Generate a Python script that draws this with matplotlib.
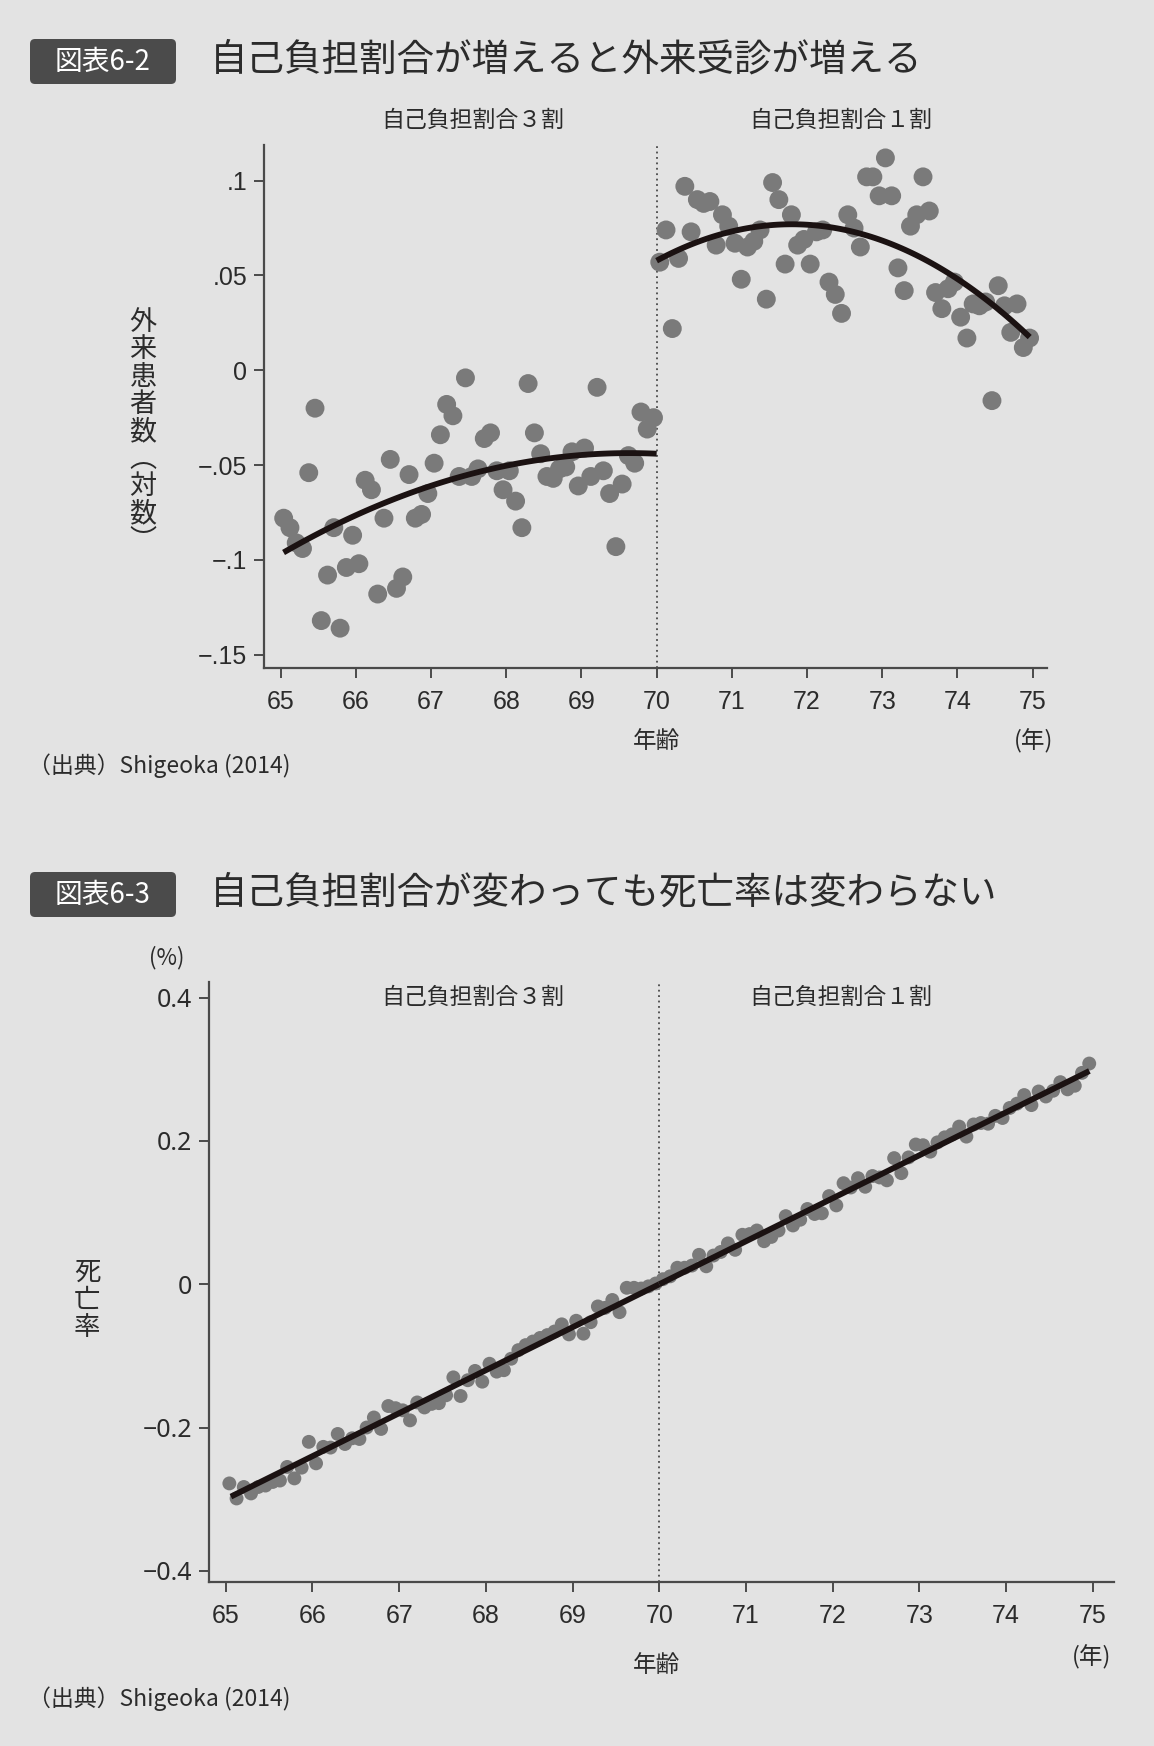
import matplotlib
matplotlib.use('Agg')
import matplotlib.pyplot as plt
import numpy as np
from matplotlib.patches import FancyBboxPatch

plt.rcParams['font.family'] = ['Noto Sans CJK JP', 'DejaVu Sans']

# ---- data ----
# month mid-points inside each 5-year band
months = np.arange(0.5, 60, 1)
ages_30 = 65 + months / 12     # 自己負担3割 (65-69歳)
ages_10 = 70 + months / 12     # 自己負担1割 (70-74歳)

# 図表6-2: 外来患者数(対数)
visits_30 = [-0.078, -0.083, -0.091, -0.094, -0.054, -0.020, -0.132, -0.108, -0.083, -0.136,
             -0.104, -0.087, -0.102, -0.058, -0.063, -0.118, -0.078, -0.047, -0.115, -0.109,
             -0.055, -0.078, -0.076, -0.065, -0.049, -0.034, -0.018, -0.024, -0.056, -0.004,
             -0.056, -0.052, -0.036, -0.033, -0.053, -0.063, -0.053, -0.069, -0.083, -0.007,
             -0.033, -0.044, -0.056, -0.057, -0.052, -0.051, -0.043, -0.061, -0.041, -0.056,
             -0.009, -0.053, -0.065, -0.093, -0.060, -0.045, -0.049, -0.022, -0.031, -0.025]
visits_10 = [0.057, 0.074, 0.022, 0.059, 0.097, 0.073, 0.090, 0.088, 0.089, 0.066,
             0.082, 0.076, 0.067, 0.048, 0.065, 0.068, 0.074, 0.0375, 0.099, 0.090,
             0.056, 0.082, 0.066, 0.069, 0.056, 0.073, 0.074, 0.0465, 0.040, 0.030,
             0.082, 0.075, 0.065, 0.102, 0.102, 0.092, 0.112, 0.092, 0.054, 0.042,
             0.076, 0.082, 0.102, 0.084, 0.041, 0.0325, 0.043, 0.0465, 0.028, 0.017,
             0.035, 0.034, 0.036, -0.016, 0.0446, 0.034, 0.020, 0.035, 0.012, 0.017]
# quadratic fits in (age - 70)
visits_fit_30 = [-0.00248, -0.0018, -0.044]
visits_fit_10 = [-0.005946, 0.02137, 0.0578]

# 図表6-3: 死亡率 (%)
deaths_30 = [-0.278, -0.299, -0.283, -0.292, -0.283, -0.281, -0.276, -0.274, -0.255, -0.271,
             -0.256, -0.220, -0.250, -0.227, -0.228, -0.209, -0.223, -0.215, -0.216, -0.200,
             -0.186, -0.202, -0.170, -0.173, -0.176, -0.190, -0.165, -0.172, -0.167, -0.166,
             -0.155, -0.130, -0.156, -0.134, -0.121, -0.136, -0.111, -0.122, -0.120, -0.104,
             -0.092, -0.085, -0.080, -0.075, -0.071, -0.066, -0.056, -0.070, -0.051, -0.069,
             -0.053, -0.031, -0.033, -0.022, -0.039, -0.005, -0.005, -0.006, -0.003, 0.001]
deaths_10 = [0.007, 0.011, 0.023, 0.023, 0.026, 0.041, 0.025, 0.040, 0.045, 0.057,
             0.048, 0.069, 0.070, 0.075, 0.060, 0.066, 0.075, 0.095, 0.082, 0.090,
             0.105, 0.098, 0.099, 0.123, 0.110, 0.141, 0.135, 0.148, 0.136, 0.151,
             0.149, 0.145, 0.176, 0.155, 0.177, 0.195, 0.194, 0.185, 0.198, 0.205,
             0.209, 0.220, 0.206, 0.223, 0.225, 0.224, 0.235, 0.232, 0.246, 0.252,
             0.264, 0.250, 0.269, 0.262, 0.270, 0.282, 0.272, 0.277, 0.295, 0.308]
deaths_fit_30 = [0.06, 0.0]
deaths_fit_10 = [0.06, 0.0]

age_ticks = list(range(65, 76))
visit_ticks = [0.1, 0.05, 0, -0.05, -0.1, -0.15]
visit_labels = ['.1', '.05', '0', '\u2212.05', '\u2212.1', '\u2212.15']
death_ticks = [0.4, 0.2, 0, -0.2, -0.4]
death_labels = ['0.4', '0.2', '0', '\u22120.2', '\u22120.4']

# ---- styling ----
BG = '#e3e3e3'
DOT = '#7a7a7a'
LINE = '#1b1212'
AX = '#4a4a4a'
TXT = '#2b2b2b'
W, H = 1154, 1746

fig = plt.figure(figsize=(W / 100, H / 100), dpi=100, facecolor=BG)


def fx(x):
    return x / W


def fy(y):
    return 1 - y / H


def make_axes(left, top, right, bottom):
    ax = fig.add_axes([fx(left), fy(bottom), fx(right) - fx(left), fy(top) - fy(bottom)])
    ax.set_facecolor(BG)
    for s in ['top', 'right']:
        ax.spines[s].set_visible(False)
    for s in ['left', 'bottom']:
        ax.spines[s].set_color(AX)
        ax.spines[s].set_linewidth(1.6)
    ax.tick_params(direction='out', length=7, width=1.4, color=AX, labelcolor=TXT, pad=5)
    ax.tick_params(axis='x', pad=9)
    ax.axvline(70, ls=(0, (1, 2)), color=AX, lw=1.3, zorder=1)
    return ax


def title_box(y_top, label, title):
    box = FancyBboxPatch((0.30, (H - y_top - 45) / 100), 1.46, 0.45,
                         boxstyle='round,pad=0,rounding_size=0.05',
                         transform=fig.dpi_scale_trans, fc='#4b4b4b', ec='none')
    fig.patches.append(box)
    fig.text(fx(103), fy(y_top + 23), label, color='white', fontsize=20,
             ha='center', va='center')
    fig.text(fx(210), fy(y_top + 21), title, color=TXT, fontsize=27,
             ha='left', va='center')


def headers(y):
    fig.text(fx(473), fy(y), '自己負担割合３割', fontsize=16.5, color=TXT, ha='center', va='center')
    fig.text(fx(841), fy(y), '自己負担割合１割', fontsize=16.5, color=TXT, ha='center', va='center')


def fit_curve(ax, coefs, x0, x1):
    xs = np.linspace(x0, x1, 100)
    ax.plot(xs, np.polyval(coefs, xs - 70), color=LINE, lw=4.2, solid_capstyle='butt', zorder=3)


# ---- 図表6-2 ----
title_box(39, '図表6-2', '自己負担割合が増えると外来受診が増える')
headers(120)

ax1 = make_axes(264, 145, 1047, 668)
ax1.scatter(ages_30, visits_30, s=185, c=DOT, edgecolors='none', zorder=2)
ax1.scatter(ages_10, visits_10, s=185, c=DOT, edgecolors='none', zorder=2)
fit_curve(ax1, visits_fit_30, 65.04, 70.0)
fit_curve(ax1, visits_fit_10, 70.0, 74.96)
ax1.set_xlim(64.78, 75.19)
ax1.set_ylim(-0.157, 0.1188)
ax1.set_xticks(age_ticks)
ax1.set_xticklabels([str(a) for a in age_ticks], fontsize=18,
                    family=['Liberation Sans Narrow', 'Liberation Sans'])
ax1.set_yticks(visit_ticks)
ax1.set_yticklabels(visit_labels, fontsize=18, family=['Liberation Sans'])

fig.text(fx(143), fy(432), '\n'.join('外来患者数︵対数︶'), fontsize=19.5, color=TXT,
         ha='center', va='center', linespacing=1.02)
fig.text(fx(657), fy(741), '年齢', fontsize=17, color=TXT, ha='center', va='center')
fig.text(fx(1034), fy(741), '(年)', fontsize=17, color=TXT, ha='center', va='center')
fig.text(fx(28), fy(766), '（出典）Shigeoka (2014)', fontsize=16.5, color=TXT,
         ha='left', va='center')

# ---- 図表6-3 ----
title_box(872, '図表6-3', '自己負担割合が変わっても死亡率は変わらない')
headers(997)

ax2 = make_axes(209, 982, 1114, 1582)
ax2.scatter(ages_30, deaths_30, s=100, c=DOT, edgecolors='none', zorder=2)
ax2.scatter(ages_10, deaths_10, s=100, c=DOT, edgecolors='none', zorder=2)
fit_curve(ax2, deaths_fit_30, 65.06, 70.0)
fit_curve(ax2, deaths_fit_10, 70.0, 74.96)
ax2.set_xlim(64.807, 75.244)
ax2.set_ylim(-0.4156, 0.4218)
ax2.set_xticks(age_ticks)
ax2.set_xticklabels([str(a) for a in age_ticks], fontsize=18,
                    family=['Liberation Sans Narrow', 'Liberation Sans'])
ax2.set_yticks(death_ticks)
ax2.set_yticklabels(death_labels, fontsize=18, family=['Noto Sans'])

fig.text(fx(167), fy(958), '(%)', fontsize=16, color=TXT, ha='center', va='center')
fig.text(fx(87), fy(1300), '\n'.join('死亡率'), fontsize=19, color=TXT,
         ha='center', va='center', linespacing=1.02)
fig.text(fx(657), fy(1665), '年齢', fontsize=17, color=TXT, ha='center', va='center')
fig.text(fx(1092), fy(1657), '(年)', fontsize=17, color=TXT, ha='center', va='center')
fig.text(fx(28), fy(1699), '（出典）Shigeoka (2014)', fontsize=16.5, color=TXT,
         ha='left', va='center')

fig.savefig('out.png', dpi=100, facecolor=BG)
